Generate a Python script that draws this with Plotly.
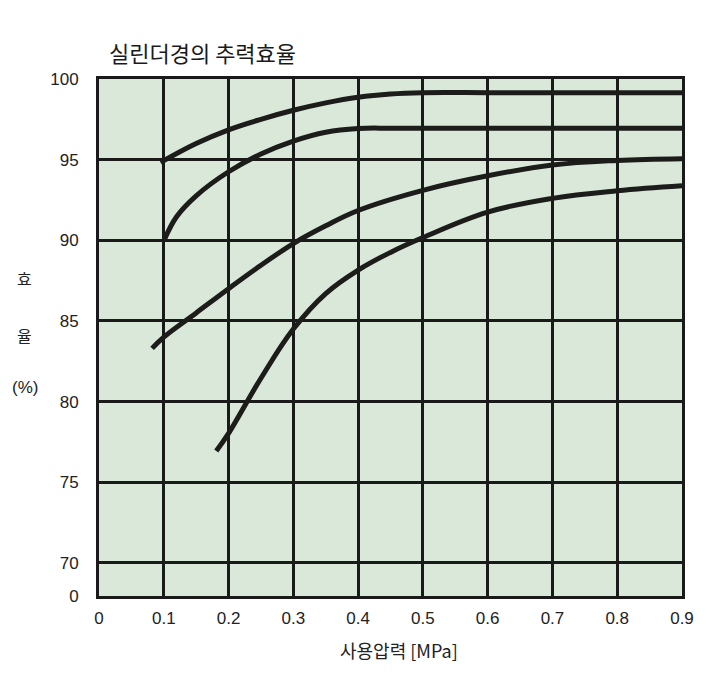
import plotly.graph_objects as go

# Data (x: MPa, y: efficiency %)
c1_x = [0.095, 0.15, 0.2, 0.25, 0.3, 0.35, 0.4, 0.45, 0.5, 0.6, 0.7, 0.8, 0.9]
c1_y = [94.83, 96.0, 96.85, 97.5, 98.06, 98.52, 98.87, 99.07, 99.15, 99.15, 99.15, 99.15, 99.15]

c2_x = [0.101, 0.12, 0.15, 0.2, 0.25, 0.3, 0.35, 0.4, 0.45, 0.5, 0.6, 0.7, 0.8, 0.9]
c2_y = [90.05, 91.48, 92.76, 94.25, 95.35, 96.15, 96.7, 96.93, 96.95, 96.95, 96.95, 96.95, 96.95, 96.95]

c3_x = [0.082, 0.1, 0.15, 0.2, 0.25, 0.3, 0.35, 0.4, 0.5, 0.6, 0.7, 0.8, 0.9]
c3_y = [83.3, 84.0, 85.5, 87.0, 88.45, 89.8, 90.9, 91.85, 93.1, 94.0, 94.67, 94.95, 95.06]

c4_x = [0.181, 0.2, 0.25, 0.3, 0.35, 0.4, 0.45, 0.5, 0.6, 0.7, 0.8, 0.9]
c4_y = [76.94, 78.03, 81.45, 84.5, 86.7, 88.15, 89.25, 90.17, 91.75, 92.6, 93.07, 93.38]

x_ticks = [0, 0.1, 0.2, 0.3, 0.4, 0.5, 0.6, 0.7, 0.8, 0.9]
x_ticktext = ["0", "0.1", "0.2", "0.3", "0.4", "0.5", "0.6", "0.7", "0.8", "0.9"]
y_bottom = 67.95  # broken axis: bottom edge labelled 0
y_ticks = [y_bottom, 70, 75, 80, 85, 90, 95, 100]
y_ticktext = ["0", "70", "75", "80", "85", "90", "95", "100"]

fig = go.Figure()
for xs, ys in [(c1_x, c1_y), (c2_x, c2_y), (c3_x, c3_y), (c4_x, c4_y)]:
    fig.add_trace(go.Scatter(x=xs, y=ys, mode="lines",
                             line=dict(color="#1c1c1a", width=5, shape="spline", smoothing=1.1),
                             showlegend=False, hoverinfo="skip"))

tick_font = dict(family="Liberation Sans, Arial, sans-serif", size=17, color="#222")
kfont = "Noto Sans CJK KR"

fig.update_layout(
    width=720, height=676,
    margin=dict(l=91, r=46, t=71, b=88),
    paper_bgcolor="white",
    plot_bgcolor="#dae8da",
    xaxis=dict(range=[0, 0.9], tickvals=x_ticks, ticktext=x_ticktext,
               showgrid=True, gridcolor="#1a1a1a", gridwidth=3,
               showline=True, mirror=True, linecolor="#1a1a1a", linewidth=3,
               ticks="", tickfont=tick_font, zeroline=False, ticklabelstandoff=5),
    yaxis=dict(range=[y_bottom, 100], tickvals=y_ticks, ticktext=y_ticktext,
               showgrid=True, gridcolor="#1a1a1a", gridwidth=3,
               showline=True, mirror=True, linecolor="#1a1a1a", linewidth=3,
               ticks="", tickfont=tick_font, zeroline=False, ticklabelstandoff=14),
    annotations=[
        dict(text="실린더경의 추력효율", xref="paper", yref="paper", x=0.013, y=1.052,
             xanchor="left", yanchor="middle", showarrow=False,
             font=dict(family=kfont, size=22, color="#1a1a1a")),
        dict(text="사용압력 [MPa]", xref="paper", yref="paper", x=0.515, y=-0.1045,
             xanchor="center", yanchor="middle", showarrow=False,
             font=dict(family=kfont, size=18, color="#222")),
        dict(text="효", xref="paper", yref="paper", x=-0.127, y=0.615,
             xanchor="center", yanchor="middle", showarrow=False,
             font=dict(family=kfont, size=16, color="#222")),
        dict(text="율", xref="paper", yref="paper", x=-0.127, y=0.505,
             xanchor="center", yanchor="middle", showarrow=False,
             font=dict(family=kfont, size=16, color="#222")),
        dict(text="(%)", xref="paper", yref="paper", x=-0.127, y=0.404,
             xanchor="center", yanchor="middle", showarrow=False,
             font=dict(family="Liberation Sans, Arial, sans-serif", size=17, color="#222")),
    ],
)

fig.write_html("out.html")
